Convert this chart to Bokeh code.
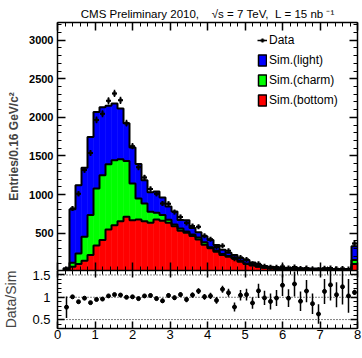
import numpy as np
from bokeh.plotting import figure
from bokeh.models import (ColumnDataSource, LinearAxis, SingleIntervalTicker,
                          Range1d, Legend, LegendItem, Span, Label, CDSView,
                          IndexFilter, CustomJSTickFormatter)
from bokeh.layouts import column
from bokeh.embed import file_html
from bokeh.resources import INLINE

# ---------------- data ----------------
bin_edges = [round(0.16 * i, 2) for i in range(51)]   # 0 .. 8 GeV/c^2, 0.16 wide

sim_bottom = [0, 5, 63, 98, 141, 215, 340, 409, 548, 603,
              655, 711, 668, 677, 655, 633, 677, 659, 633, 590,
              530, 504, 461, 418, 350, 302, 258, 215, 193, 172,
              128, 98, 81, 63, 50, 40, 35, 30, 28, 25,
              23, 21, 20, 19, 18, 17, 16, 15, 14, 100]
sim_charm = [0, 10, 52, 139, 311, 518, 739, 842, 845, 842,
             803, 725, 475, 272, 229, 143, 86, 74, 40, 20,
             28, 18, 22, 26, 30, 16, 14, 13, 11, 10,
             9, 8, 6, 5, 5, 5, 4, 4, 3, 3,
             3, 3, 2, 2, 2, 2, 2, 2, 2, 50]
sim_light = [0, 30, 695, 884, 894, 1014, 991, 881, 757, 735,
             657, 489, 467, 446, 301, 254, 277, 227, 172, 170,
             112, 143, 82, 66, 80, 91, 72, 57, 41, 33,
             39, 44, 31, 22, 17, 19, 19, 18, 19, 19,
             19, 19, 20, 19, 18, 17, 17, 17, 17, 180]
data_counts = [0, 35, 818, 1009, 1319, 1537, 1967, 2047, 2215, 2311,
               2221, 1925, 1626, 1353, 1221, 1071, 1009, 883, 879, 772,
               710, 632, 593, 581, 465, 421, 320, 336, 270, 168,
               184, 159, 103, 103, 71, 58, 57, 66, 49, 61,
               41, 49, 36, 25, 43, 46, 37, 42, 34, 366]
ratio_err = [0, 0.24, 0.04, 0.04, 0.035, 0.03, 0.03, 0.03, 0.03, 0.03,
             0.03, 0.03, 0.035, 0.04, 0.04, 0.045, 0.045, 0.05, 0.05, 0.05,
             0.055, 0.06, 0.06, 0.065, 0.065, 0.07, 0.075, 0.08, 0.09, 0.1,
             0.12, 0.13, 0.13, 0.16, 0.16, 0.18, 0.18, 0.24, 0.2, 0.28,
             0.22, 0.25, 0.23, 0.22, 0.28, 0.35, 0.28, 0.4, 0.38, 0.06]
ratio_ref = [0.5, 1.0, 1.5]

series_names = ["Sim.(bottom)", "Sim.(charm)", "Sim.(light)"]
series_colors = ["#ff0000", "#00ff00", "#0000ff"]

NB = "\u00a0"
title_text = ("CMS" + NB + "Preliminary" + NB + "2010," + NB * 4 + "\u221as" + NB + "=" + NB + "7" + NB
              + "TeV," + NB * 2 + "L" + NB + "=" + NB + "15" + NB + "nb" + NB + "\u207b\u00b9")
y_title = "Entries/0.16 GeV/c\u00b2"
ratio_title = "Data/Sim"
x_title = "Vertex mass [GeV/c\u00b2]"

FONT = "Liberation Sans"

# ---------------- derived ----------------
edges = np.array(bin_edges)
left, right = edges[:-1], edges[1:]
centers = (left + right) / 2
layers = [np.array(sim_bottom, float), np.array(sim_charm, float), np.array(sim_light, float)]
cums = np.cumsum(layers, axis=0)
total = cums[-1]
data = np.array(data_counts, float)
mask = data > 0
xd = centers[mask]
yd = data[mask]
ed = np.sqrt(yd)
ratio = yd / total[mask]
rerr = np.array(ratio_err)[mask]
empty_bins = [int(i) for i in np.where(total == 0)[0]]   # bins with no content

blank = CustomJSTickFormatter(code="return ''")


def style_axis(ax, show_labels, size="13px", bold=False, standoff=4, major=8, minor=4):
    ax.major_tick_in = major
    ax.major_tick_out = 0
    ax.minor_tick_in = minor
    ax.minor_tick_out = 0
    ax.axis_line_color = "black"
    ax.axis_line_width = 1.5
    ax.major_tick_line_color = "black"
    ax.major_tick_line_width = 1.5
    ax.minor_tick_line_color = "black"
    ax.minor_tick_line_width = 1
    if show_labels:
        ax.major_label_text_font = FONT
        ax.major_label_text_font_size = size
        ax.major_label_text_font_style = "bold" if bold else "normal"
        ax.major_label_text_color = "black"
        ax.major_label_standoff = standoff
    else:
        ax.formatter = blank
        ax.major_label_text_font_size = "1px"
        ax.major_label_standoff = 0


# ---------------- main panel ----------------
p = figure(width=362, height=270, x_range=Range1d(0, 8), y_range=Range1d(15, 3230),
           output_backend="svg", toolbar_location=None,
           x_axis_location=None, y_axis_location=None,
           min_border_left=57, min_border_right=5, min_border_top=22, min_border_bottom=0,
           title=title_text)
p.title.text_font = FONT
p.title.text_font_size = "11.5px"
p.title.text_font_style = "normal"
p.title.text_color = "black"
p.title.align = "center"
p.title.standoff = 6
p.grid.visible = False
p.outline_line_color = None
p.background_fill_color = "white"
p.border_fill_color = "white"

prev = np.zeros_like(total)
layer_sources = []
for cum, col in zip(cums, series_colors):
    s = ColumnDataSource(dict(left=left, right=right, bottom=prev, top=cum))
    layer_sources.append(s)
    p.quad(left="left", right="right", bottom="bottom", top="top", source=s,
           fill_color=col, line_color=col, line_width=0.5)
    prev = cum
for cum in cums:
    p.step(x=edges, y=np.append(cum, cum[-1]), mode="after",
           line_color="black", line_width=2)

src = ColumnDataSource(dict(x=xd, y=yd, lo=yd - ed, hi=yd + ed,
                            xl=xd - 0.06, xr=xd + 0.06))
p.segment(x0="x", y0="lo", x1="x", y1="hi", source=src, line_color="black", line_width=1.5)
hseg = p.segment(x0="xl", y0="y", x1="xr", y1="y", source=src, line_color="black", line_width=1.5)
dmark = p.scatter(x="x", y="y", source=src, marker="cross", size=5, line_color="black", line_width=2)

# legend swatches: outlined versions of the layers, restricted to the empty bin(s)
legend_boxes = {}
for name, col, s in zip(series_names, series_colors, layer_sources):
    legend_boxes[name] = p.quad(left="left", right="right", bottom="bottom", top="top", source=s,
                                view=CDSView(filter=IndexFilter(indices=empty_bins)),
                                fill_color=col, line_color="black", line_width=1.5)

legend = Legend(items=[LegendItem(label="Data", renderers=[hseg, dmark]),
                       LegendItem(label="Sim.(light)", renderers=[legend_boxes["Sim.(light)"]]),
                       LegendItem(label="Sim.(charm)", renderers=[legend_boxes["Sim.(charm)"]]),
                       LegendItem(label="Sim.(bottom)", renderers=[legend_boxes["Sim.(bottom)"]])],
                location=(200, 163))
legend.glyph_width = 10
legend.glyph_height = 14
legend.label_height = 14
legend.label_standoff = 2
legend.spacing = 6
legend.padding = 0
legend.margin = 0
legend.border_line_color = None
legend.background_fill_alpha = 0
legend.label_text_font = FONT
legend.label_text_font_size = "12px"
legend.label_text_color = "black"
p.add_layout(legend, "center")

ax = LinearAxis(ticker=SingleIntervalTicker(interval=500, num_minor_ticks=5),
                axis_label=y_title)
style_axis(ax, True, size="11px", bold=True, standoff=4)
ax.axis_label_text_font = FONT
ax.axis_label_text_font_size = "12px"
ax.axis_label_text_font_style = "bold"
ax.axis_label_standoff = 5
p.add_layout(ax, "left")
ax = LinearAxis(ticker=SingleIntervalTicker(interval=500, num_minor_ticks=5))
style_axis(ax, False)
p.add_layout(ax, "right")
for loc in ("above", "below"):
    ax = LinearAxis(ticker=SingleIntervalTicker(interval=1, num_minor_ticks=5))
    style_axis(ax, False)
    p.add_layout(ax, loc)

# ---------------- ratio panel ----------------
q = figure(width=362, height=88, x_range=p.x_range, y_range=Range1d(0.3, 1.6),
           output_backend="svg", toolbar_location=None,
           x_axis_location=None, y_axis_location=None,
           min_border_left=57, min_border_right=5, min_border_top=0, min_border_bottom=30)
q.grid.visible = False
q.outline_line_color = None
q.background_fill_color = "white"
q.border_fill_color = "white"

for v in ratio_ref:
    q.add_layout(Span(location=v, dimension="width", line_color="black",
                      line_width=1, line_dash="1 2"))

rsrc = ColumnDataSource(dict(x=xd, y=ratio, lo=ratio - rerr, hi=ratio + rerr))
q.segment(x0="x", y0="lo", x1="x", y1="hi", source=rsrc, line_color="black", line_width=1.5)
q.scatter(x="x", y="y", source=rsrc, marker="circle", size=4, fill_color="black", line_color="black")

ax = LinearAxis(ticker=SingleIntervalTicker(interval=0.5, num_minor_ticks=5),
                axis_label=ratio_title)
style_axis(ax, True, size="13px", standoff=7, major=7, minor=4)
ax.major_label_overrides = {0.5: "0.5", 1: "1", 1.5: "1.5"}
ax.axis_label_text_font = FONT
ax.axis_label_text_font_size = "14px"
ax.axis_label_text_font_style = "normal"
ax.axis_label_standoff = 10
q.add_layout(ax, "left")
ax = LinearAxis(ticker=SingleIntervalTicker(interval=0.5, num_minor_ticks=5))
style_axis(ax, False, major=7, minor=4)
q.add_layout(ax, "right")
ax = LinearAxis(ticker=SingleIntervalTicker(interval=1, num_minor_ticks=5))
style_axis(ax, True, size="13px", standoff=1, major=7, minor=4)
q.add_layout(ax, "below")
ax = LinearAxis(ticker=SingleIntervalTicker(interval=1, num_minor_ticks=5))
style_axis(ax, False, major=7, minor=4)
q.add_layout(ax, "above")

q.add_layout(Label(x=8, y=0.3, x_units="data", y_units="data", y_offset=-24,
                   text=x_title, text_align="right", text_baseline="alphabetic",
                   text_font=FONT, text_font_size="13.5px", text_color="black"))

layout = column(p, q, spacing=0)
open("out.html", "w").write(file_html(layout, INLINE))
